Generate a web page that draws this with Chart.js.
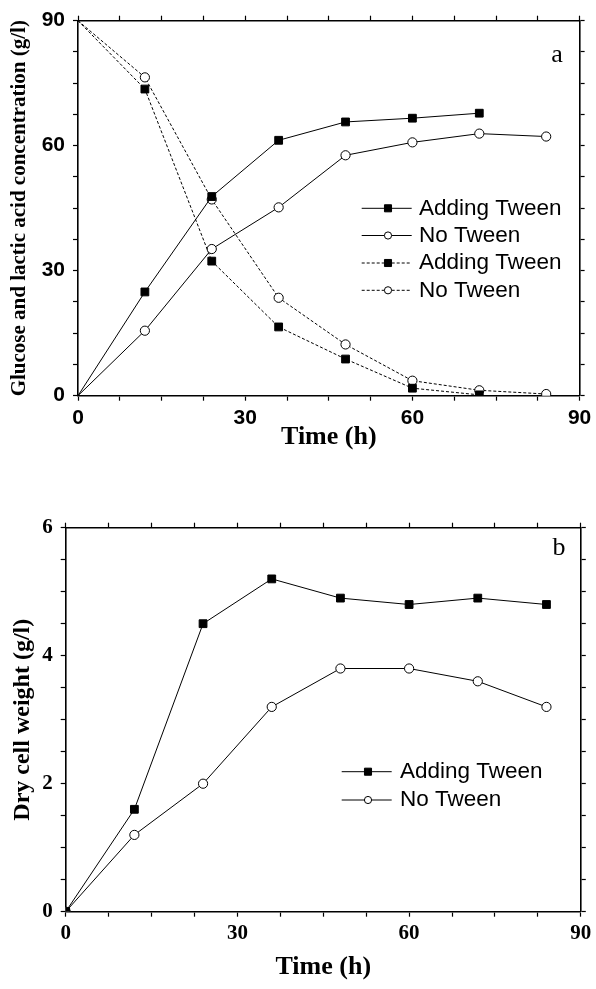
<!DOCTYPE html>
<html>
<head>
<meta charset="utf-8">
<script src="https://cdn.jsdelivr.net/npm/chart.js@4.4.0/dist/chart.umd.min.js"></script>
<style>
  body { margin: 0; background: #fff; }
  canvas { display: block; }
</style>
</head>
<body>
<canvas id="chartA" width="596" height="470"></canvas>
<canvas id="chartB" width="596" height="519"></canvas>
<script>
// sampling times (h)
const timeHours = [0, 12, 24, 36, 48, 60, 72, 84];

// panel a: lactic acid (solid) and glucose (dashed), g/l
const lacticTween = [0, 24.9, 47.8, 61.3, 65.7, 66.6, 67.8];
const lacticNoTween = [0, 15.6, 35.2, 45.2, 57.7, 60.8, 62.9, 62.2];
const glucoseTween = [90, 73.6, 32.3, 16.5, 8.8, 1.8, 0.2];
const glucoseNoTween = [90, 76.4, 47.1, 23.5, 12.3, 3.6, 1.3, 0.4];

// panel b: dry cell weight, g/l
const cellTween = [0, 1.6, 4.5, 5.2, 4.9, 4.8, 4.9, 4.8];
const cellNoTween = [0, 1.2, 2.0, 3.2, 3.8, 3.8, 3.6, 3.2];

const seriesLabels = ['Adding Tween', 'No Tween'];
const timeTicks = [0, 30, 60, 90];
const concTicks = [0, 30, 60, 90];
const cellTicks = [0, 2, 4, 6];

function toPoints(values) {
    return values.map((v, i) => ({ x: timeHours[i], y: v }));
}

function makeDataset(label, values, filled, dashed, hideFirst) {
    return {
        label: label,
        data: toPoints(values),
        borderColor: '#000',
        borderWidth: 1,
        borderDash: dashed ? [3, 2] : [],
        backgroundColor: filled ? '#000' : '#fff',
        pointStyle: filled ? 'rect' : 'circle',
        pointRadius: ctx => (hideFirst && ctx.dataIndex === 0) ? 0 : (filled ? 5.5 : 4.6),
        pointBorderWidth: 1,
        pointBorderColor: '#000',
        pointBackgroundColor: filled ? '#000' : '#fff',
        tension: 0,
        fill: false
    };
}

// legend drawn inside the plot, using each dataset's own styling
const insideLegend = {
    id: 'insideLegend',
    afterDraw(chart, args, opts) {
        const ctx = chart.ctx;
        ctx.save();
        chart.data.datasets.forEach((ds, i) => {
            const y = opts.rows[i];
            ctx.strokeStyle = '#000';
            ctx.lineWidth = 1;
            ctx.setLineDash(ds.borderDash);
            ctx.beginPath();
            ctx.moveTo(opts.lineStart, y);
            ctx.lineTo(opts.lineEnd, y);
            ctx.stroke();
            ctx.setLineDash([]);
            ctx.fillStyle = ds.pointBackgroundColor;
            ctx.strokeStyle = '#000';
            Chart.helpers.drawPoint(ctx, {
                pointStyle: ds.pointStyle,
                radius: ds.pointStyle === 'rect' ? 5 : 3.6,
                borderWidth: 1
            }, opts.marker, y);
            ctx.fillStyle = '#000';
            ctx.font = opts.font;
            ctx.textBaseline = 'middle';
            ctx.textAlign = 'left';
            ctx.fillText(ds.label, opts.textX, y);
        });
        ctx.font = '26px "Liberation Serif"';
        ctx.textAlign = 'center';
        ctx.textBaseline = 'alphabetic';
        ctx.fillText(opts.panel, opts.panelX, opts.panelY);
        ctx.restore();
    }
};

function gridOpts() {
    return { drawOnChartArea: false, drawTicks: true, tickLength: 5, tickColor: '#000', tickWidth: 1.2 };
}

function makeScales(cfg) {
    const majorX = v => timeTicks.includes(v) ? String(v) : '';
    const majorY = v => cfg.yTicks.includes(v) ? String(v) : '';
    return {
        x: {
            type: 'linear', position: 'bottom', min: 0, max: 90,
            border: { color: '#000', width: 1.6 },
            grid: gridOpts(),
            ticks: { stepSize: 7.5, autoSkip: false, maxRotation: 0, padding: 4.7, color: '#000',
                     font: cfg.tickFont, callback: majorX },
            title: { display: true, text: 'Time (h)', color: '#000',
                     font: { family: 'Liberation Serif', size: 26, weight: 'bold' },
                     padding: { top: 0, bottom: cfg.xTitlePad } },
            afterFit: s => { s.height = cfg.h - cfg.bottom; }
        },
        xTop: {
            type: 'linear', position: 'top', min: 0, max: 90,
            border: { color: '#000', width: 1.6 },
            grid: gridOpts(),
            ticks: { stepSize: 7.5, autoSkip: false, callback: () => '' },
            afterFit: s => { s.height = cfg.top; }
        },
        y: {
            type: 'linear', position: 'left', min: 0, max: cfg.yMax,
            border: { color: '#000', width: 1.6 },
            grid: gridOpts(),
            ticks: { stepSize: cfg.yStep, autoSkip: false, padding: 8, color: '#000',
                     font: cfg.tickFont, callback: majorY },
            title: { display: true, text: cfg.yTitle, color: '#000',
                     font: { family: 'Liberation Serif', size: cfg.yTitleSize, weight: 'bold' },
                     padding: { top: cfg.yTitlePad, bottom: 0 } },
            afterFit: s => { s.width = cfg.left; }
        },
        yRight: {
            type: 'linear', position: 'right', min: 0, max: cfg.yMax,
            border: { color: '#000', width: 1.6 },
            grid: gridOpts(),
            ticks: { stepSize: cfg.yStep, autoSkip: false, callback: () => '' },
            afterFit: s => { s.width = 596 - cfg.right; }
        }
    };
}

new Chart(document.getElementById('chartA'), {
    type: 'line',
    data: {
        datasets: [
            makeDataset(seriesLabels[0], lacticTween, true, false, true),
            makeDataset(seriesLabels[1], lacticNoTween, false, false, true),
            makeDataset(seriesLabels[0], glucoseTween, true, true, true),
            makeDataset(seriesLabels[1], glucoseNoTween, false, true, true)
        ]
    },
    options: {
        responsive: false,
        animation: false,
        devicePixelRatio: 1,
        layout: { padding: 0 },
        scales: makeScales({
            h: 470, top: 20.7, bottom: 395.7, left: 78, right: 583,
            yMax: 90, yStep: 7.5, yTicks: concTicks,
            yTitle: 'Glucose and lactic acid concentration (g/l)', yTitleSize: 21,
            tickFont: { family: 'Liberation Sans', size: 21, weight: 'bold' },
            xTitlePad: 17, yTitlePad: 7
        }),
        plugins: {
            legend: { display: false },
            tooltip: { enabled: false },
            insideLegend: {
                rows: [208.3, 235.5, 263, 290.3],
                lineStart: 361.7, lineEnd: 411.7, marker: 388, textX: 419,
                font: '22.5px "Liberation Sans"',
                panel: 'a', panelX: 557, panelY: 62
            }
        }
    },
    plugins: [insideLegend]
});

new Chart(document.getElementById('chartB'), {
    type: 'line',
    data: {
        datasets: [
            makeDataset(seriesLabels[0], cellTween, true, false, false),
            makeDataset(seriesLabels[1], cellNoTween, false, false, false)
        ]
    },
    options: {
        responsive: false,
        animation: false,
        devicePixelRatio: 1,
        layout: { padding: 0 },
        scales: makeScales({
            h: 519, top: 57.7, bottom: 441.7, left: 65.7, right: 583,
            yMax: 6, yStep: 0.5, yTicks: cellTicks,
            yTitle: 'Dry cell weight (g/l)', yTitleSize: 24,
            tickFont: { family: 'Liberation Serif', size: 21, weight: 'bold' },
            xTitlePad: 6.5, yTitlePad: 8
        }),
        plugins: {
            legend: { display: false },
            tooltip: { enabled: false },
            insideLegend: {
                rows: [301.7, 330],
                lineStart: 341.7, lineEnd: 391.7, marker: 368, textX: 400,
                font: '22.5px "Liberation Sans"',
                panel: 'b', panelX: 559, panelY: 85
            }
        }
    },
    plugins: [insideLegend]
});
</script>
</body>
</html>
